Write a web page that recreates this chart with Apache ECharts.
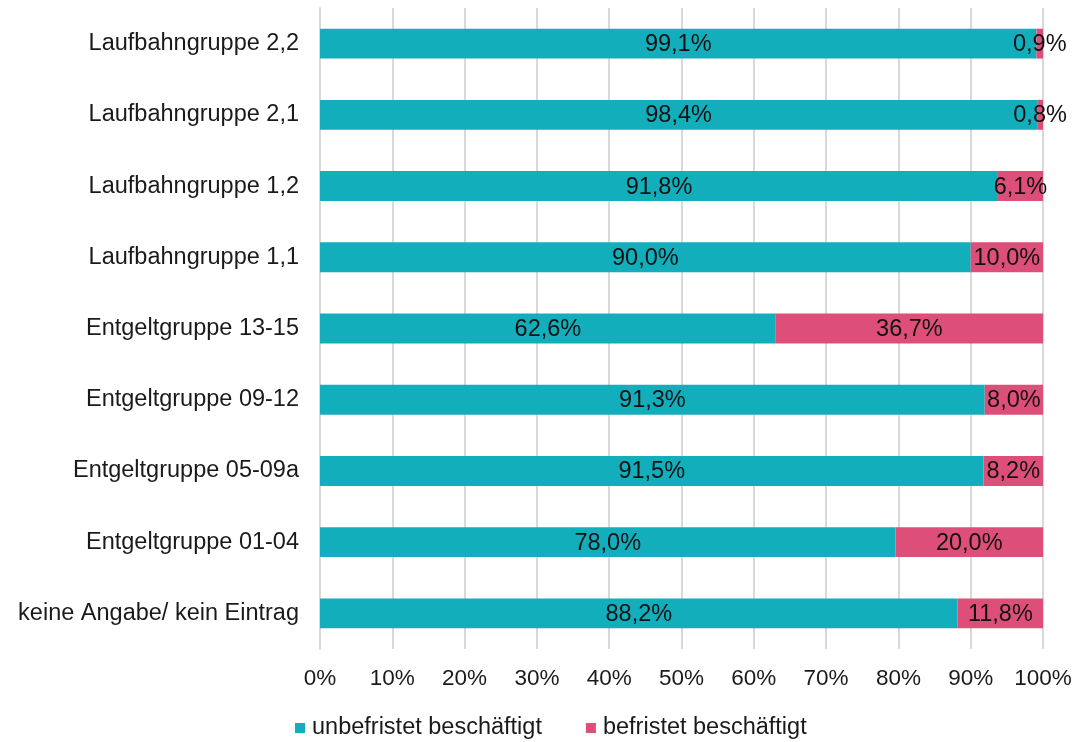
<!DOCTYPE html>
<html>
<head>
<meta charset="utf-8">
<script src="https://cdn.jsdelivr.net/npm/echarts@6/dist/echarts.min.js"></script>
<style>
  html, body { margin: 0; padding: 0; background: #fff; }
  #chart { width: 1078px; height: 742px; }
</style>
</head>
<body>
<div id="chart"></div>
<script>
// Groups, top to bottom
const categories = [
  'Laufbahngruppe 2,2',
  'Laufbahngruppe 2,1',
  'Laufbahngruppe 1,2',
  'Laufbahngruppe 1,1',
  'Entgeltgruppe 13-15',
  'Entgeltgruppe 09-12',
  'Entgeltgruppe 05-09a',
  'Entgeltgruppe 01-04',
  'keine Angabe/ kein Eintrag'
];
// Shares in percent
const unbefristet = [99.1, 98.4, 91.8, 90.0, 62.6, 91.3, 91.5, 78.0, 88.2];
const befristet   = [0.9, 0.8, 6.1, 10.0, 36.7, 8.0, 8.2, 20.0, 11.8];
const seriesNames = ['unbefristet beschäftigt', 'befristet beschäftigt'];
const xTicks = [0, 10, 20, 30, 40, 50, 60, 70, 80, 90, 100];

const FONT = '"Liberation Sans", Arial, sans-serif';
const fmt = v => v.toFixed(1).replace('.', ',') + '%';

// 100 % stacked: each row is scaled to its own total
function shareOf(arr) {
  return arr.map((v, i) => ({
    value: v / (unbefristet[i] + befristet[i]) * 100,
    raw: v
  }));
}

function makeSeries(name, arr, color) {
  return {
    name: name,
    type: 'bar',
    stack: 'total',
    barWidth: '42%',
    data: shareOf(arr),
    itemStyle: { color: color },
    label: {
      show: true,
      position: 'inside',
      color: '#111',
      fontFamily: FONT,
      fontSize: 23.5,
      offset: [0, 1],
      formatter: p => fmt(p.data.raw)
    }
  };
}

const chart = echarts.init(document.getElementById('chart'), null, { renderer: 'canvas' });
chart.setOption({
  animation: false,
  textStyle: { fontFamily: FONT },
  grid: { left: 320, right: 35, top: 8, bottom: 93, containLabel: false },
  xAxis: {
    type: 'value',
    min: xTicks[0],
    max: xTicks[xTicks.length - 1],
    interval: 10,
    axisLine: { show: false },
    axisTick: { show: false },
    splitLine: { show: true, lineStyle: { color: '#d9d9d9', width: 2 } },
    axisLabel: {
      margin: 18,
      color: '#1a1a1a',
      fontSize: 22.5,
      fontFamily: FONT,
      formatter: v => v + '%'
    }
  },
  yAxis: {
    type: 'category',
    inverse: true,
    data: categories,
    axisLine: { show: true, lineStyle: { color: '#d9d9d9', width: 2 } },
    axisTick: { show: false },
    axisLabel: {
      margin: 21,
      color: '#1a1a1a',
      fontSize: 23.5,
      fontFamily: FONT
    }
  },
  legend: {
    top: 711,
    left: 290,
    icon: 'rect',
    itemWidth: 10,
    itemHeight: 10,
    itemGap: 44,
    textStyle: { color: '#1a1a1a', fontSize: 23.5, fontFamily: FONT, padding: [0, 0, 0, 2] },
    data: seriesNames
  },
  series: [
    makeSeries(seriesNames[0], unbefristet, '#12aebc'),
    makeSeries(seriesNames[1], befristet, '#dd4f79')
  ]
});
</script>
</body>
</html>
